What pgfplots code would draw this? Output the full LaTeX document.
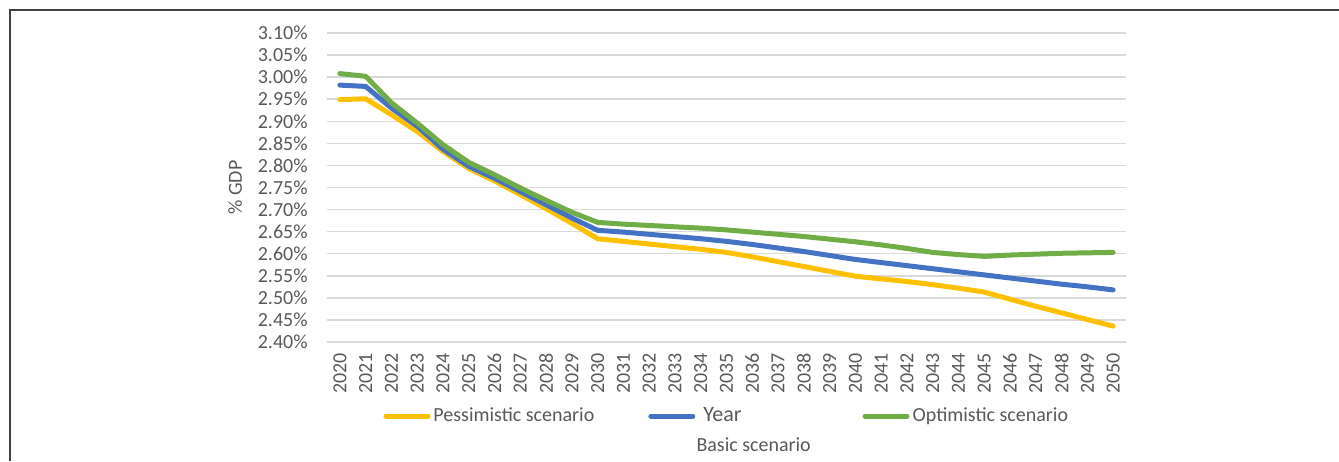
\documentclass[border=0pt]{standalone}
\usepackage{pgfplots}
\pgfplotsset{compat=1.18}
\usepackage{fontspec}
\setmainfont{Carlito}
\definecolor{cy}{HTML}{FFC000}
\definecolor{cb}{HTML}{4472C4}
\definecolor{cg}{HTML}{70AD47}
\definecolor{tx}{HTML}{595959}
\definecolor{gr}{HTML}{D9D9D9}
\begin{document}
\fontsize{10pt}{12pt}\selectfont
\begin{tikzpicture}[x=0.5pt,y=0.5pt]
\useasboundingbox (0,0) rectangle (1339,461);
\draw[color=black!75, line width=0.75pt] (10,0) -- (10,451) -- (1339,451);
\begin{axis}[
  at={(163.5pt,59.5pt)}, anchor=south west,
  scale only axis, width=399.5pt, height=154.5pt,
  xmin=2019.5, xmax=2050.5, ymin=2.40, ymax=3.10,
  xtick={2020,2021,...,2050},
  ytick={2.40,2.45,2.50,2.55,2.60,2.65,2.70,2.75,2.80,2.85,2.90,2.95,3.00,3.05,3.10},
  axis line style={draw=none},
  major tick length=0pt,
  ymajorgrids, grid style={gr, line width=0.75pt},
  /pgf/number format/assume math mode=true,
  /pgf/number format/1000 sep={},
  yticklabel={\pgfmathprintnumber[fixed,fixed zerofill,precision=2]{\tick}\%},
  ticklabel style={font=\fontsize{10pt}{12pt}\selectfont, text=tx, inner sep=0pt},
  xticklabel style={rotate=90, anchor=east},
  yticklabel style={anchor=east},
  xticklabel shift=5.5pt,
  yticklabel shift=9.5pt,
  ylabel={\% GDP},
  ylabel style={at={(axis description cs:-0.115,0.5)}, anchor=center, font=\fontsize{10pt}{12pt}\selectfont, text=tx},
  xlabel={Basic scenario},
  xlabel style={at={(axis description cs:0.534,-0.333)}, anchor=center, font=\fontsize{10pt}{12pt}\selectfont, text=tx},
  legend columns=3,
  legend style={draw=none, fill=none, at={(0.501,-0.2395)}, anchor=center,
    font=\fontsize{10pt}{12pt}\selectfont, text=tx,
    nodes={inner sep=1.5pt},
    /tikz/column 2/.style={column sep=25.5pt},
    /tikz/column 4/.style={column sep=59pt}},
  legend cell align=left,
  legend image code/.code={\draw[#1, line cap=round] (1.25pt,0pt) -- (22.25pt,0pt);},
  every axis plot/.append style={line width=2.5pt, line join=round, line cap=round, no markers},
]
\addplot[cy] coordinates {
(2020,2.949)(2021,2.951)(2022,2.915)(2023,2.877)(2024,2.832)(2025,2.793)(2026,2.765)(2027,2.734)(2028,2.702)(2029,2.669)(2030,2.634)
(2031,2.628)(2032,2.622)(2033,2.616)(2034,2.610)(2035,2.603)(2036,2.593)(2037,2.582)(2038,2.571)(2039,2.560)(2040,2.549)
(2041,2.543)(2042,2.537)(2043,2.530)(2044,2.522)(2045,2.513)(2046,2.497)(2047,2.481)(2048,2.466)(2049,2.451)(2050,2.436)};
\addlegendentry{Pessimistic scenario}
\addplot[cb] coordinates {
(2020,2.982)(2021,2.979)(2022,2.930)(2023,2.889)(2024,2.837)(2025,2.798)(2026,2.771)(2027,2.741)(2028,2.711)(2029,2.681)(2030,2.653)
(2031,2.649)(2032,2.644)(2033,2.639)(2034,2.634)(2035,2.628)(2036,2.621)(2037,2.613)(2038,2.605)(2039,2.596)(2040,2.587)
(2041,2.580)(2042,2.573)(2043,2.566)(2044,2.559)(2045,2.552)(2046,2.545)(2047,2.538)(2048,2.531)(2049,2.525)(2050,2.518)};
\addlegendentry{\fontsize{11pt}{12pt}\selectfont\ Year}
\addplot[cg] coordinates {
(2020,3.008)(2021,3.002)(2022,2.942)(2023,2.896)(2024,2.847)(2025,2.807)(2026,2.779)(2027,2.749)(2028,2.721)(2029,2.694)(2030,2.671)
(2031,2.667)(2032,2.664)(2033,2.661)(2034,2.658)(2035,2.654)(2036,2.649)(2037,2.644)(2038,2.639)(2039,2.633)(2040,2.627)
(2041,2.620)(2042,2.612)(2043,2.603)(2044,2.598)(2045,2.594)(2046,2.597)(2047,2.599)(2048,2.601)(2049,2.602)(2050,2.603)};
\addlegendentry{Optimistic scenario}
\end{axis}
\end{tikzpicture}
\end{document}
